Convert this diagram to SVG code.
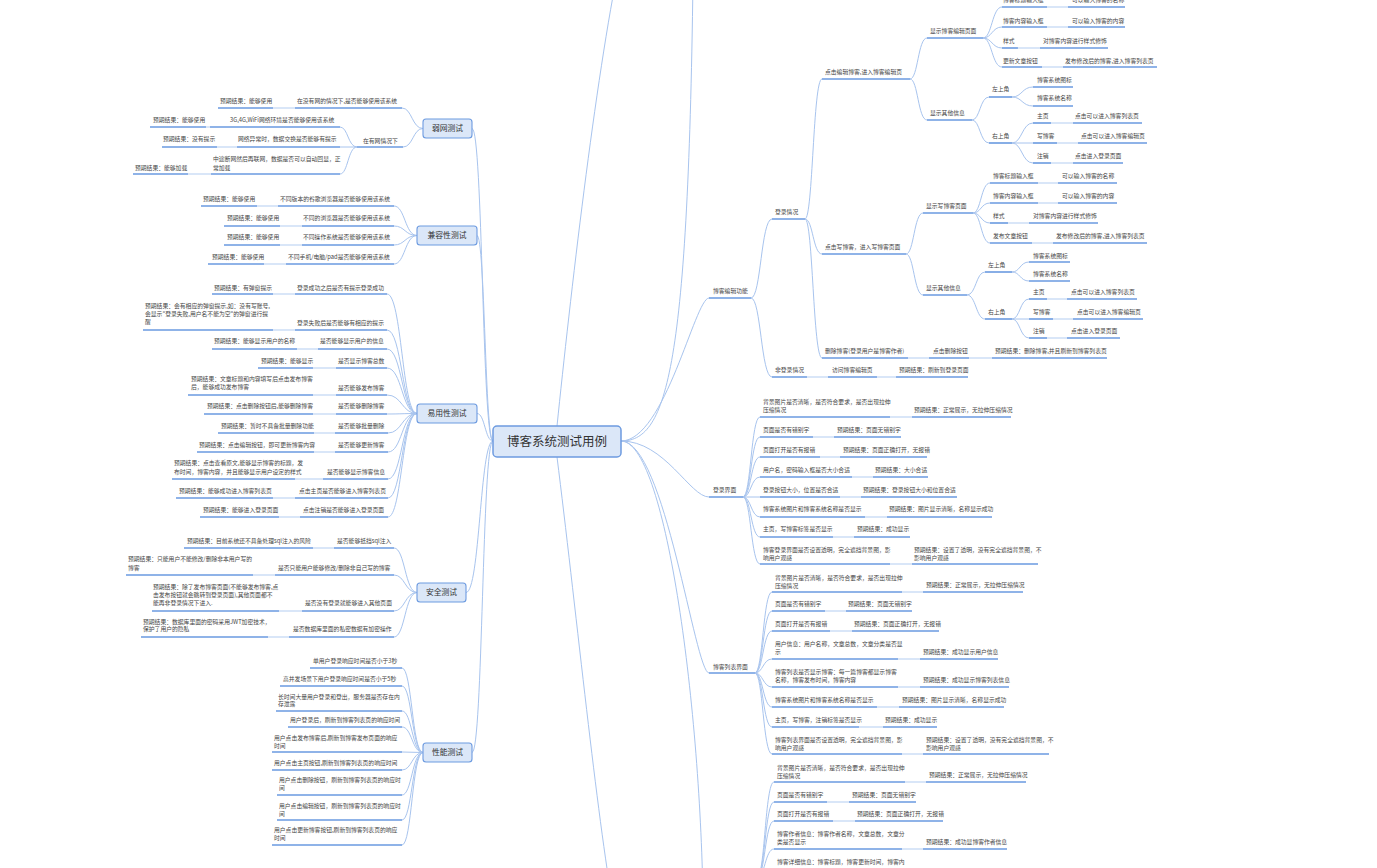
<svg xmlns="http://www.w3.org/2000/svg" width="1377" height="868" viewBox="0 0 1377 868">
<style>
.t{font-family:"Noto Sans CJK SC","Noto Sans",sans-serif;font-size:5.8px;fill:#444}
.u{stroke:#6a9ae0;stroke-width:1.6}
.k{stroke:#c9dbf5;stroke-width:1.4}
.c path{fill:none;stroke:#a8c4ee;stroke-width:1}
.box{fill:#dbe7f8;stroke:#6d9be0;stroke-width:1.1}
.nt{font-family:"Noto Sans CJK SC","Noto Sans",sans-serif;font-size:7.8px;fill:#333;text-anchor:middle}
</style>
<rect width="1377" height="868" fill="#fff"/>
<g id="connectors" class="c">
<path d="M493,441 C482,441 483,128.5 472,128.5"/>
<path d="M493,441 C485,441 485,235.5 477,235.5"/>
<path d="M493,441 C485,441 485,413.5 477,413.5"/>
<path d="M493,441 C480,441 480,592.5 466,592.5"/>
<path d="M493,441 C482,441 483,752.5 472,752.5"/>
<path d="M557,426 C570,300 595,80 620,-40"/>
<path d="M557,457 C575,600 595,800 612,900"/>
<path d="M621,441 C665,441 688,380 693,-20"/>
<path d="M621,441 C665,441 695,298 709,298"/>
<path d="M621,441 C665,441 690,497 709,497"/>
<path d="M621,441 C665,441 695,673 709,673"/>
<path d="M621,441 C665,441 700,700 703,900"/>
<path d="M423,128.5 C412,128.5 412,108 402,108"/>
<path d="M423,128.5 C413,128.5 413,147 403,147"/>
<path d="M357,147 C348,147 348,127 340,127"/>
<path d="M357,147 L340,147"/>
<path d="M357,147 C348,147 348,174 340,174"/>
<path d="M417,235.5 C405,235.5 405,206 394,206"/>
<path d="M417,235.5 C405,235.5 405,226 394,226"/>
<path d="M417,235.5 C405,235.5 405,245 394,245"/>
<path d="M417,235.5 C405,235.5 405,264 394,264"/>
<path d="M417,413.5 C402,413.5 402,294 387,294"/>
<path d="M417,413.5 C402,413.5 402,330 387,330"/>
<path d="M417,413.5 C402,413.5 402,349 387,349"/>
<path d="M417,413.5 C402,413.5 402,368 387,368"/>
<path d="M417,413.5 C402,413.5 402,395 387,395"/>
<path d="M417,413.5 C402,413.5 402,414 387,414"/>
<path d="M417,413.5 C402,413.5 402,433 388,433"/>
<path d="M417,413.5 C402,413.5 402,452 388,452"/>
<path d="M417,413.5 C402,413.5 402,479 388,479"/>
<path d="M417,413.5 C402,413.5 402,498 388,498"/>
<path d="M417,413.5 C402,413.5 402,517 388,517"/>
<path d="M417,592.5 C405,592.5 405,548 394,548"/>
<path d="M417,592.5 C405,592.5 405,575 394,575"/>
<path d="M417,592.5 C405,592.5 405,611 394,611"/>
<path d="M417,592.5 C405,592.5 405,637 394,637"/>
<path d="M423,752.5 C412,752.5 412,668 402,668"/>
<path d="M423,752.5 C412,752.5 412,686 402,686"/>
<path d="M423,752.5 C412,752.5 412,711 402,711"/>
<path d="M423,752.5 C412,752.5 412,727 402,727"/>
<path d="M423,752.5 L402,752"/>
<path d="M423,752.5 C412,752.5 412,770 402,770"/>
<path d="M423,752.5 C412,752.5 412,795 402,795"/>
<path d="M423,752.5 C412,752.5 412,820 402,820"/>
<path d="M423,752.5 C412,752.5 412,845 402,845"/>
<path d="M751,298 C761,298 761,219 772,219"/>
<path d="M751,298 C761,298 761,377 772,377"/>
<path d="M805,219 C813,219 813,79 822,79"/>
<path d="M805,219 C813,219 813,254 822,254"/>
<path d="M805,219 C813,219 813,358 822,358"/>
<path d="M910,79 C918,79 918,38 927,38"/>
<path d="M910,79 C918,79 918,120 927,120"/>
<path d="M983,38 C992,38 992,7 1002,7"/>
<path d="M983,38 C992,38 992,27 1002,27"/>
<path d="M983,38 C992,38 992,48 1002,48"/>
<path d="M983,38 C992,38 992,67 1002,67"/>
<path d="M972,120 C980,120 980,97 989,97"/>
<path d="M972,120 C980,120 980,143 989,143"/>
<path d="M1012,97 C1022,97 1022,87 1033,87"/>
<path d="M1012,97 C1022,97 1022,106 1033,106"/>
<path d="M1012,143 C1022,143 1022,123 1033,123"/>
<path d="M1012,143 L1033,143"/>
<path d="M1012,143 C1022,143 1022,163 1033,163"/>
<path d="M906,254 C914,254 914,213 923,213"/>
<path d="M906,254 C914,254 914,295 923,295"/>
<path d="M973,213 C981,213 981,183 990,183"/>
<path d="M973,213 C981,213 981,203 990,203"/>
<path d="M973,213 C981,213 981,223 990,223"/>
<path d="M973,213 C981,213 981,243 990,243"/>
<path d="M967,295 C976,295 976,272 985,272"/>
<path d="M967,295 C976,295 976,319 985,319"/>
<path d="M1012,272 C1020,272 1020,262 1029,262"/>
<path d="M1012,272 C1020,272 1020,281 1029,281"/>
<path d="M1012,319 C1020,319 1020,299 1029,299"/>
<path d="M1012,319 L1029,319"/>
<path d="M1012,319 C1020,319 1020,338 1029,338"/>
<path d="M743,497 C751,497 751,417 760,417"/>
<path d="M743,497 C751,497 751,437 760,437"/>
<path d="M743,497 C751,497 751,457 760,457"/>
<path d="M743,497 C751,497 751,477 760,477"/>
<path d="M743,497 L760,497"/>
<path d="M743,497 C751,497 751,517 760,517"/>
<path d="M743,497 C751,497 751,537 760,537"/>
<path d="M743,497 C751,497 751,564 760,564"/>
<path d="M755,673 C763,673 763,592 772,592"/>
<path d="M755,673 C763,673 763,611 772,611"/>
<path d="M755,673 C763,673 763,631 772,631"/>
<path d="M755,673 C763,673 763,659 772,659"/>
<path d="M755,673 C763,673 763,687 772,687"/>
<path d="M755,673 C763,673 763,707 772,707"/>
<path d="M755,673 C763,673 763,727 772,727"/>
<path d="M755,673 C763,673 763,754 772,754"/>
<path d="M757,878 C765,878 765,782 774,782"/>
<path d="M757,878 C765,878 765,802 774,802"/>
<path d="M757,878 C765,878 765,821 774,821"/>
<path d="M757,878 C765,878 765,849 774,849"/>
<path d="M757,878 C765,878 765,872 774,872"/>
</g>

<g id="root"><rect class="box" x="493" y="426" width="128" height="31" rx="4" style="stroke-width:1.5"/><text x="557" y="446" style="font-family:'Noto Sans CJK SC',sans-serif;font-size:12.5px;fill:#333;text-anchor:middle">博客系统测试用例</text></g>

<!-- 弱网测试 -->
<g id="weak"><rect class="box" x="423" y="119" width="49" height="19" rx="3"/><text class="nt" x="447.5" y="131.3">弱网测试</text></g>
<g id="weak-1"><text class="t" x="297" y="103">在没有网的情况下,是否能够使用该系统</text><line class="u" x1="295" y1="108" x2="402" y2="108"/><line class="k" x1="273" y1="108" x2="295" y2="108"/><text class="t" x="220" y="103">预期结果：能够使用</text><line class="u" x1="218" y1="108" x2="273" y2="108"/></g>
<g id="weak-2"><text class="t" x="363" y="143">在有网情况下</text><line class="u" x1="357" y1="147" x2="403" y2="147"/></g>
<g id="weak-2a"><text class="t" x="230" y="122">3G,4G,WiFi网络环境是否能够使用该系统</text><line class="u" x1="210" y1="127" x2="340" y2="127"/><line class="k" x1="206" y1="127" x2="210" y2="127"/><text class="t" x="153" y="122">预期结果：能够使用</text><line class="u" x1="150" y1="127" x2="206" y2="127"/></g>
<g id="weak-2b"><text class="t" x="238" y="141">网络异常时，数据交换是否能够有提示</text><line class="u" x1="237" y1="147" x2="340" y2="147"/><line class="k" x1="217" y1="147" x2="237" y2="147"/><text class="t" x="163" y="141">预期结果：没有提示</text><line class="u" x1="162" y1="147" x2="217" y2="147"/></g>
<g id="weak-2c"><text class="t" x="213" y="161">中途断网然后再联网，数据是否可以自动回显，正</text><text class="t" x="213" y="170">常加载</text><line class="u" x1="211" y1="174" x2="340" y2="174"/><line class="k" x1="188" y1="174" x2="211" y2="174"/><text class="t" x="135" y="170">预期结果：能够加载</text><line class="u" x1="133" y1="174" x2="188" y2="174"/></g>

<!-- 兼容性测试 -->
<g id="compat"><rect class="box" x="417" y="226" width="60" height="19" rx="3"/><text class="nt" x="447" y="238.3">兼容性测试</text></g>
<g id="compat-1"><text class="t" x="280" y="201">不同版本的谷歌浏览器是否能够使用该系统</text><line class="u" x1="278" y1="206" x2="394" y2="206"/><line class="k" x1="257" y1="206" x2="278" y2="206"/><text class="t" x="203" y="201">预期结果：能够使用</text><line class="u" x1="201" y1="206" x2="257" y2="206"/></g>
<g id="compat-2"><text class="t" x="303" y="220">不同的浏览器是否能够使用该系统</text><line class="u" x1="302" y1="226" x2="394" y2="226"/><line class="k" x1="280" y1="226" x2="302" y2="226"/><text class="t" x="227" y="220">预期结果：能够使用</text><line class="u" x1="224" y1="226" x2="280" y2="226"/></g>
<g id="compat-3"><text class="t" x="303" y="239">不同操作系统是否能够使用该系统</text><line class="u" x1="302" y1="245" x2="394" y2="245"/><line class="k" x1="280" y1="245" x2="302" y2="245"/><text class="t" x="227" y="239">预期结果：能够使用</text><line class="u" x1="224" y1="245" x2="280" y2="245"/></g>
<g id="compat-4"><text class="t" x="288" y="259">不同手机/电脑/pad是否能够使用该系统</text><line class="u" x1="286" y1="264" x2="394" y2="264"/><line class="k" x1="264" y1="264" x2="286" y2="264"/><text class="t" x="212" y="259">预期结果：能够使用</text><line class="u" x1="208" y1="264" x2="264" y2="264"/></g>

<!-- 易用性测试 -->
<g id="usab"><rect class="box" x="417" y="404" width="60" height="19" rx="3"/><text class="nt" x="447" y="416.3">易用性测试</text></g>
<g id="usab-1"><text class="t" x="297" y="290">登录成功之后是否有提示登录成功</text><line class="u" x1="295" y1="294" x2="387" y2="294"/><line class="k" x1="273" y1="294" x2="295" y2="294"/><text class="t" x="214" y="290">预期结果：有弹窗提示</text><line class="u" x1="212" y1="294" x2="273" y2="294"/></g>
<g id="usab-2"><text class="t" x="297" y="325">登录失败后是否能够有相应的提示</text><line class="u" x1="295" y1="330" x2="387" y2="330"/><line class="k" x1="273" y1="330" x2="295" y2="330"/><text class="t" x="145" y="308">预期结果：会有相应的弹窗提示,如：没有写账号,</text><text class="t" x="145" y="316">会显示"登录失败,用户名不能为空"的弹窗进行提</text><text class="t" x="145" y="324">醒</text><line class="u" x1="143" y1="330" x2="273" y2="330"/></g>
<g id="usab-3"><text class="t" x="320" y="343">是否能够显示用户的信息</text><line class="u" x1="318" y1="349" x2="387" y2="349"/><line class="k" x1="297" y1="349" x2="318" y2="349"/><text class="t" x="214" y="343">预期结果：能够显示用户的名称</text><line class="u" x1="212" y1="349" x2="297" y2="349"/></g>
<g id="usab-4"><text class="t" x="338" y="363">是否显示博客总数</text><line class="u" x1="336" y1="368" x2="387" y2="368"/><line class="k" x1="313" y1="368" x2="336" y2="368"/><text class="t" x="261" y="363">预期结果：能够显示</text><line class="u" x1="258" y1="368" x2="313" y2="368"/></g>
<g id="usab-5"><text class="t" x="338" y="390">是否能够发布博客</text><line class="u" x1="336" y1="395" x2="387" y2="395"/><line class="k" x1="313" y1="395" x2="336" y2="395"/><text class="t" x="191" y="381">预期结果：文章标题和内容填写后点击发布博客</text><text class="t" x="191" y="389">后，能够成功发布博客</text><line class="u" x1="188" y1="395" x2="313" y2="395"/></g>
<g id="usab-6"><text class="t" x="338" y="408">是否能够删除博客</text><line class="u" x1="336" y1="414" x2="387" y2="414"/><line class="k" x1="313" y1="414" x2="336" y2="414"/><text class="t" x="207" y="408">预期结果：点击删除按钮后,能够删除博客</text><line class="u" x1="204" y1="414" x2="313" y2="414"/></g>
<g id="usab-7"><text class="t" x="338" y="428">是否能够批量删除</text><line class="u" x1="335" y1="433" x2="388" y2="433"/><line class="k" x1="314" y1="433" x2="335" y2="433"/><text class="t" x="221" y="428">预期结果：暂时不具备批量删除功能</text><line class="u" x1="218" y1="433" x2="314" y2="433"/></g>
<g id="usab-8"><text class="t" x="338" y="447">是否能够更新博客</text><line class="u" x1="335" y1="452" x2="388" y2="452"/><line class="k" x1="314" y1="452" x2="335" y2="452"/><text class="t" x="199" y="447">预期结果：点击编辑按钮，即可更新博客内容</text><line class="u" x1="197" y1="452" x2="314" y2="452"/></g>
<g id="usab-9"><text class="t" x="327" y="474">是否能够显示博客信息</text><line class="u" x1="323" y1="479" x2="388" y2="479"/><line class="k" x1="295" y1="479" x2="323" y2="479"/><text class="t" x="174" y="465">预期结果：点击查看原文,能够显示博客的标题，发</text><text class="t" x="174" y="474">布时间，博客内容，并且能够显示用户设定的样式</text><line class="u" x1="172" y1="479" x2="295" y2="479"/></g>
<g id="usab-10"><text class="t" x="299" y="493">点击主页是否能够进入博客列表页</text><line class="u" x1="295" y1="498" x2="388" y2="498"/><line class="k" x1="273" y1="498" x2="295" y2="498"/><text class="t" x="179" y="493">预期结果：能够成功进入博客列表页</text><line class="u" x1="176" y1="498" x2="273" y2="498"/></g>
<g id="usab-11"><text class="t" x="303" y="512">点击注销是否能够进入登录页面</text><line class="u" x1="300" y1="517" x2="388" y2="517"/><line class="k" x1="279" y1="517" x2="300" y2="517"/><text class="t" x="203" y="512">预期结果：能够进入登录页面</text><line class="u" x1="200" y1="517" x2="279" y2="517"/></g>

<!-- 安全测试 -->
<g id="sec"><rect class="box" x="417" y="583" width="49" height="19" rx="3"/><text class="nt" x="441.5" y="595.3">安全测试</text></g>
<g id="sec-1"><text class="t" x="337" y="543">是否能够抵挡sql注入</text><line class="u" x1="334" y1="548" x2="394" y2="548"/><line class="k" x1="313" y1="548" x2="334" y2="548"/><text class="t" x="187" y="543">预期结果：目前系统还不具备处理sql注入的风险</text><line class="u" x1="184" y1="548" x2="313" y2="548"/></g>
<g id="sec-2"><text class="t" x="278" y="570">是否只能用户能够修改/删除非自己写的博客</text><line class="u" x1="275" y1="575" x2="394" y2="575"/><line class="k" x1="253" y1="575" x2="275" y2="575"/><text class="t" x="128" y="561">预期结果：只能用户不能修改/删除非本用户写的</text><text class="t" x="128" y="570">博客</text><line class="u" x1="126" y1="575" x2="253" y2="575"/></g>
<g id="sec-3"><text class="t" x="305" y="605">是否没有登录就能够进入其他页面</text><line class="u" x1="302" y1="611" x2="394" y2="611"/><line class="k" x1="279" y1="611" x2="302" y2="611"/><text class="t" x="153" y="589">预期结果：除了发布博客页面(不能够发布博客,点</text><text class="t" x="153" y="597">击发布按钮就会跳转到登录页面),其他页面都不</text><text class="t" x="153" y="605">能再非登录情况下进入.</text><line class="u" x1="152" y1="611" x2="279" y2="611"/></g>
<g id="sec-4"><text class="t" x="293" y="631">是否数据库里面的私密数据有加密操作</text><line class="u" x1="289" y1="637" x2="394" y2="637"/><line class="k" x1="268" y1="637" x2="289" y2="637"/><text class="t" x="143" y="624">预期结果：数据库里面的密码采用JWT加密技术，</text><text class="t" x="143" y="631">保护了用户的隐私</text><line class="u" x1="141" y1="637" x2="268" y2="637"/></g>

<!-- 性能测试 -->
<g id="perf"><rect class="box" x="423" y="743" width="49" height="19" rx="3"/><text class="nt" x="447.5" y="755.3">性能测试</text></g>
<g id="perf-1"><text class="t" x="313" y="663">单用户登录响应时间是否小于3秒</text><line class="u" x1="310" y1="668" x2="402" y2="668"/></g>
<g id="perf-2"><text class="t" x="283" y="681">高并发场景下用户登录响应时间是否小于5秒</text><line class="u" x1="280" y1="686" x2="402" y2="686"/></g>
<g id="perf-3"><text class="t" x="278" y="699">长时间大量用户登录和登出，服务器是否存在内</text><text class="t" x="278" y="706">存泄露</text><line class="u" x1="276" y1="711" x2="402" y2="711"/></g>
<g id="perf-4"><text class="t" x="290" y="722">用户登录后，刷新到博客列表页的响应时间</text><line class="u" x1="288" y1="727" x2="402" y2="727"/></g>
<g id="perf-5"><text class="t" x="274" y="740">用户点击发布博客后,刷新到博客发布页面的响应</text><text class="t" x="274" y="748">时间</text><line class="u" x1="272" y1="752" x2="402" y2="752"/></g>
<g id="perf-6"><text class="t" x="274" y="765">用户点击主页按钮,刷新到博客列表页的响应时间</text><line class="u" x1="272" y1="770" x2="402" y2="770"/></g>
<g id="perf-7"><text class="t" x="279" y="782">用户点击删除按钮，刷新到博客列表页的响应时</text><text class="t" x="279" y="790">间</text><line class="u" x1="277" y1="795" x2="402" y2="795"/></g>
<g id="perf-8"><text class="t" x="279" y="808">用户点击编辑按钮，刷新到博客列表页的响应时</text><text class="t" x="279" y="816">间</text><line class="u" x1="277" y1="820" x2="402" y2="820"/></g>
<g id="perf-9"><text class="t" x="274" y="832">用户点击更新博客按钮,刷新到博客列表页的响应</text><text class="t" x="274" y="840">时间</text><line class="u" x1="272" y1="845" x2="402" y2="845"/></g>

<!-- 博客编辑功能 -->
<g id="edit"><text class="t" x="713" y="293">博客编辑功能</text><line class="u" x1="709" y1="298" x2="751" y2="298"/></g>
<g id="edit-login"><text class="t" x="775" y="214">登录情况</text><line class="u" x1="772" y1="219" x2="805" y2="219"/></g>
<g id="edit-a"><text class="t" x="825" y="74">点击编辑博客,进入博客编辑页</text><line class="u" x1="822" y1="79" x2="910" y2="79"/></g>
<g id="edit-a1"><text class="t" x="930" y="33">显示博客编辑页面</text><line class="u" x1="927" y1="38" x2="983" y2="38"/></g>
<g id="edit-a1-1"><text class="t" x="1003" y="2">博客标题输入框</text><line class="u" x1="1002" y1="7" x2="1047" y2="7"/><line class="k" x1="1047" y1="7" x2="1068" y2="7"/><text class="t" x="1072" y="2">可以输入博客的名称</text><line class="u" x1="1068" y1="7" x2="1125" y2="7"/></g>
<g id="edit-a1-2"><text class="t" x="1003" y="23">博客内容输入框</text><line class="u" x1="1002" y1="27" x2="1047" y2="27"/><line class="k" x1="1047" y1="27" x2="1068" y2="27"/><text class="t" x="1072" y="23">可以输入博客的内容</text><line class="u" x1="1068" y1="27" x2="1125" y2="27"/></g>
<g id="edit-a1-3"><text class="t" x="1003" y="43">样式</text><line class="u" x1="1002" y1="48" x2="1018" y2="48"/><line class="k" x1="1018" y1="48" x2="1040" y2="48"/><text class="t" x="1043" y="43">对博客内容进行样式修饰</text><line class="u" x1="1040" y1="48" x2="1108" y2="48"/></g>
<g id="edit-a1-4"><text class="t" x="1003" y="63">更新文章按钮</text><line class="u" x1="1002" y1="67" x2="1042" y2="67"/><line class="k" x1="1042" y1="67" x2="1063" y2="67"/><text class="t" x="1065" y="63">发布修改后的博客,进入博客列表页</text><line class="u" x1="1063" y1="67" x2="1157" y2="67"/></g>
<g id="edit-a2"><text class="t" x="930" y="115">显示其他信息</text><line class="u" x1="927" y1="120" x2="972" y2="120"/></g>
<g id="edit-a2-l"><text class="t" x="992" y="91">左上角</text><line class="u" x1="989" y1="97" x2="1012" y2="97"/></g>
<g id="edit-a2-l1"><text class="t" x="1037" y="82">博客系统图标</text><line class="u" x1="1033" y1="87" x2="1073" y2="87"/></g>
<g id="edit-a2-l2"><text class="t" x="1037" y="100">博客系统名称</text><line class="u" x1="1033" y1="106" x2="1073" y2="106"/></g>
<g id="edit-a2-r"><text class="t" x="992" y="138">右上角</text><line class="u" x1="989" y1="143" x2="1012" y2="143"/></g>
<g id="edit-a2-r1"><text class="t" x="1037" y="118">主页</text><line class="u" x1="1033" y1="123" x2="1051" y2="123"/><line class="k" x1="1051" y1="123" x2="1073" y2="123"/><text class="t" x="1075" y="118">点击可以进入博客列表页</text><line class="u" x1="1073" y1="123" x2="1142" y2="123"/></g>
<g id="edit-a2-r2"><text class="t" x="1037" y="138">写博客</text><line class="u" x1="1033" y1="143" x2="1057" y2="143"/><line class="k" x1="1057" y1="143" x2="1078" y2="143"/><text class="t" x="1081" y="138">点击可以进入博客编辑页</text><line class="u" x1="1078" y1="143" x2="1147" y2="143"/></g>
<g id="edit-a2-r3"><text class="t" x="1037" y="158">注销</text><line class="u" x1="1033" y1="163" x2="1051" y2="163"/><line class="k" x1="1051" y1="163" x2="1073" y2="163"/><text class="t" x="1075" y="158">点击进入登录页面</text><line class="u" x1="1073" y1="163" x2="1123" y2="163"/></g>
<g id="edit-b"><text class="t" x="825" y="249">点击写博客，进入写博客页面</text><line class="u" x1="822" y1="254" x2="906" y2="254"/></g>
<g id="edit-b1"><text class="t" x="926" y="208">显示写博客页面</text><line class="u" x1="923" y1="213" x2="973" y2="213"/></g>
<g id="edit-b1-1"><text class="t" x="993" y="178">博客标题输入框</text><line class="u" x1="990" y1="183" x2="1038" y2="183"/><line class="k" x1="1038" y1="183" x2="1058" y2="183"/><text class="t" x="1062" y="178">可以输入博客的名称</text><line class="u" x1="1058" y1="183" x2="1117" y2="183"/></g>
<g id="edit-b1-2"><text class="t" x="993" y="198">博客内容输入框</text><line class="u" x1="990" y1="203" x2="1038" y2="203"/><line class="k" x1="1038" y1="203" x2="1058" y2="203"/><text class="t" x="1062" y="198">可以输入博客的内容</text><line class="u" x1="1058" y1="203" x2="1117" y2="203"/></g>
<g id="edit-b1-3"><text class="t" x="993" y="218">样式</text><line class="u" x1="990" y1="223" x2="1008" y2="223"/><line class="k" x1="1008" y1="223" x2="1029" y2="223"/><text class="t" x="1033" y="218">对博客内容进行样式修饰</text><line class="u" x1="1029" y1="223" x2="1098" y2="223"/></g>
<g id="edit-b1-4"><text class="t" x="993" y="238">发布文章按钮</text><line class="u" x1="990" y1="243" x2="1032" y2="243"/><line class="k" x1="1032" y1="243" x2="1053" y2="243"/><text class="t" x="1056" y="238">发布修改后的博客,进入博客列表页</text><line class="u" x1="1053" y1="243" x2="1147" y2="243"/></g>
<g id="edit-b2"><text class="t" x="926" y="290">显示其他信息</text><line class="u" x1="923" y1="295" x2="967" y2="295"/></g>
<g id="edit-b2-l"><text class="t" x="988" y="267">左上角</text><line class="u" x1="985" y1="272" x2="1012" y2="272"/></g>
<g id="edit-b2-l1"><text class="t" x="1033" y="258">博客系统图标</text><line class="u" x1="1029" y1="262" x2="1070" y2="262"/></g>
<g id="edit-b2-l2"><text class="t" x="1033" y="276">博客系统名称</text><line class="u" x1="1029" y1="281" x2="1070" y2="281"/></g>
<g id="edit-b2-r"><text class="t" x="988" y="314">右上角</text><line class="u" x1="985" y1="319" x2="1012" y2="319"/></g>
<g id="edit-b2-r1"><text class="t" x="1033" y="294">主页</text><line class="u" x1="1029" y1="299" x2="1047" y2="299"/><line class="k" x1="1047" y1="299" x2="1067" y2="299"/><text class="t" x="1071" y="294">点击可以进入博客列表页</text><line class="u" x1="1067" y1="299" x2="1137" y2="299"/></g>
<g id="edit-b2-r2"><text class="t" x="1033" y="314">写博客</text><line class="u" x1="1029" y1="319" x2="1053" y2="319"/><line class="k" x1="1053" y1="319" x2="1073" y2="319"/><text class="t" x="1077" y="314">点击可以进入博客编辑页</text><line class="u" x1="1073" y1="319" x2="1143" y2="319"/></g>
<g id="edit-b2-r3"><text class="t" x="1033" y="333">注销</text><line class="u" x1="1029" y1="338" x2="1047" y2="338"/><line class="k" x1="1047" y1="338" x2="1067" y2="338"/><text class="t" x="1071" y="333">点击进入登录页面</text><line class="u" x1="1067" y1="338" x2="1120" y2="338"/></g>
<g id="edit-c"><text class="t" x="825" y="353">删除博客(登录用户是博客作者)</text><line class="u" x1="822" y1="358" x2="908" y2="358"/><line class="k" x1="908" y1="358" x2="929" y2="358"/><text class="t" x="933" y="353">点击删除按钮</text><line class="u" x1="929" y1="358" x2="969" y2="358"/><line class="k" x1="969" y1="358" x2="992" y2="358"/><text class="t" x="995" y="353">预期结果：删除博客,并且刷新到博客列表页</text><line class="u" x1="992" y1="358" x2="1107" y2="358"/></g>
<g id="edit-nologin"><text class="t" x="775" y="372">非登录情况</text><line class="u" x1="772" y1="377" x2="807" y2="377"/><line class="k" x1="807" y1="377" x2="828" y2="377"/><text class="t" x="832" y="372">访问博客编辑页</text><line class="u" x1="828" y1="377" x2="877" y2="377"/><line class="k" x1="877" y1="377" x2="896" y2="377"/><text class="t" x="899" y="372">预期结果：刷新到登录页面</text><line class="u" x1="896" y1="377" x2="968" y2="377"/></g>

<!-- 登录界面 -->
<g id="loginui"><text class="t" x="713" y="492">登录界面</text><line class="u" x1="709" y1="497" x2="743" y2="497"/></g>
<g id="loginui-1"><text class="t" x="763" y="404">背景图片是否清晰，是否符合要求，是否出现拉伸</text><text class="t" x="763" y="412">压缩情况</text><line class="u" x1="760" y1="417" x2="890" y2="417"/><line class="k" x1="890" y1="417" x2="912" y2="417"/><text class="t" x="914" y="412">预期结果：正常展示，无拉伸压缩情况</text><line class="u" x1="912" y1="417" x2="1011" y2="417"/></g>
<g id="loginui-2"><text class="t" x="763" y="432">页面是否有错别字</text><line class="u" x1="760" y1="437" x2="813" y2="437"/><line class="k" x1="813" y1="437" x2="834" y2="437"/><text class="t" x="837" y="432">预期结果：页面无错别字</text><line class="u" x1="834" y1="437" x2="901" y2="437"/></g>
<g id="loginui-3"><text class="t" x="763" y="452">页面打开是否有报错</text><line class="u" x1="760" y1="457" x2="820" y2="457"/><line class="k" x1="820" y1="457" x2="840" y2="457"/><text class="t" x="843" y="452">预期结果：页面正确打开，无报错</text><line class="u" x1="840" y1="457" x2="927" y2="457"/></g>
<g id="loginui-4"><text class="t" x="763" y="472">用户名，密码输入框是否大小合适</text><line class="u" x1="760" y1="477" x2="852" y2="477"/><line class="k" x1="852" y1="477" x2="873" y2="477"/><text class="t" x="875" y="472">预期结果：大小合适</text><line class="u" x1="873" y1="477" x2="928" y2="477"/></g>
<g id="loginui-5"><text class="t" x="763" y="492">登录按钮大小，位置是否合适</text><line class="u" x1="760" y1="497" x2="840" y2="497"/><line class="k" x1="840" y1="497" x2="861" y2="497"/><text class="t" x="863" y="492">预期结果：登录按钮大小和位置合适</text><line class="u" x1="861" y1="497" x2="957" y2="497"/></g>
<g id="loginui-6"><text class="t" x="763" y="511">博客系统图片和博客系统名称是否显示</text><line class="u" x1="760" y1="517" x2="865" y2="517"/><line class="k" x1="865" y1="517" x2="887" y2="517"/><text class="t" x="889" y="511">预期结果：图片显示清晰，名称显示成功</text><line class="u" x1="887" y1="517" x2="992" y2="517"/></g>
<g id="loginui-7"><text class="t" x="763" y="531">主页，写博客标签是否显示</text><line class="u" x1="760" y1="537" x2="833" y2="537"/><line class="k" x1="833" y1="537" x2="854" y2="537"/><text class="t" x="857" y="531">预期结果：成功显示</text><line class="u" x1="854" y1="537" x2="910" y2="537"/></g>
<g id="loginui-8"><text class="t" x="763" y="552">博客登录界面是否设置透明，完全遮挡背景图，影</text><text class="t" x="763" y="560">响用户观感</text><line class="u" x1="760" y1="564" x2="890" y2="564"/><line class="k" x1="890" y1="564" x2="912" y2="564"/><text class="t" x="914" y="552">预期结果：设置了透明，没有完全遮挡背景图，不</text><text class="t" x="914" y="560">影响用户观感</text><line class="u" x1="912" y1="564" x2="1038" y2="564"/></g>

<!-- 博客列表界面 -->
<g id="listui"><text class="t" x="713" y="669">博客列表界面</text><line class="u" x1="709" y1="673" x2="755" y2="673"/></g>
<g id="listui-1"><text class="t" x="775" y="580">背景图片是否清晰，是否符合要求，是否出现拉伸</text><text class="t" x="775" y="588">压缩情况</text><line class="u" x1="772" y1="592" x2="902" y2="592"/><line class="k" x1="902" y1="592" x2="923" y2="592"/><text class="t" x="926" y="587">预期结果：正常展示，无拉伸压缩情况</text><line class="u" x1="923" y1="592" x2="1023" y2="592"/></g>
<g id="listui-2"><text class="t" x="775" y="606">页面是否有错别字</text><line class="u" x1="772" y1="611" x2="825" y2="611"/><line class="k" x1="825" y1="611" x2="846" y2="611"/><text class="t" x="848" y="606">预期结果：页面无错别字</text><line class="u" x1="846" y1="611" x2="912" y2="611"/></g>
<g id="listui-3"><text class="t" x="775" y="626">页面打开是否有报错</text><line class="u" x1="772" y1="631" x2="830" y2="631"/><line class="k" x1="830" y1="631" x2="852" y2="631"/><text class="t" x="854" y="626">预期结果：页面正确打开，无报错</text><line class="u" x1="852" y1="631" x2="939" y2="631"/></g>
<g id="listui-4"><text class="t" x="775" y="646">用户信息：用户名称，文章总数，文章分类是否显</text><text class="t" x="775" y="654">示</text><line class="u" x1="772" y1="659" x2="898" y2="659"/><line class="k" x1="898" y1="659" x2="920" y2="659"/><text class="t" x="923" y="654">预期结果：成功显示用户信息</text><line class="u" x1="920" y1="659" x2="998" y2="659"/></g>
<g id="listui-5"><text class="t" x="775" y="674">博客列表是否显示博客：每一篇博客都显示博客</text><text class="t" x="775" y="682">名称，博客发布时间，博客内容</text><line class="u" x1="772" y1="687" x2="898" y2="687"/><line class="k" x1="898" y1="687" x2="920" y2="687"/><text class="t" x="923" y="682">预期结果：成功显示博客列表信息</text><line class="u" x1="920" y1="687" x2="1009" y2="687"/></g>
<g id="listui-6"><text class="t" x="775" y="702">博客系统图片和博客系统名称是否显示</text><line class="u" x1="772" y1="707" x2="877" y2="707"/><line class="k" x1="877" y1="707" x2="899" y2="707"/><text class="t" x="902" y="702">预期结果：图片显示清晰，名称显示成功</text><line class="u" x1="899" y1="707" x2="1004" y2="707"/></g>
<g id="listui-7"><text class="t" x="775" y="722">主页，写博客，注销标签是否显示</text><line class="u" x1="772" y1="727" x2="859" y2="727"/><line class="k" x1="859" y1="727" x2="883" y2="727"/><text class="t" x="885" y="722">预期结果：成功显示</text><line class="u" x1="883" y1="727" x2="937" y2="727"/></g>
<g id="listui-8"><text class="t" x="775" y="742">博客列表界面是否设置透明，完全遮挡背景图，影</text><text class="t" x="775" y="750">响用户观感</text><line class="u" x1="772" y1="754" x2="902" y2="754"/><line class="k" x1="902" y1="754" x2="923" y2="754"/><text class="t" x="926" y="742">预期结果：设置了透明，没有完全遮挡背景图，不</text><text class="t" x="926" y="750">影响用户观感</text><line class="u" x1="923" y1="754" x2="1049" y2="754"/></g>

<!-- 博客详情页 (cut at bottom) -->
<g id="detail-1"><text class="t" x="777" y="770">背景图片是否清晰，是否符合要求，是否出现拉伸</text><text class="t" x="777" y="778">压缩情况</text><line class="u" x1="774" y1="782" x2="905" y2="782"/><line class="k" x1="905" y1="782" x2="926" y2="782"/><text class="t" x="929" y="777">预期结果：正常展示，无拉伸压缩情况</text><line class="u" x1="926" y1="782" x2="1026" y2="782"/></g>
<g id="detail-2"><text class="t" x="777" y="797">页面是否有错别字</text><line class="u" x1="774" y1="802" x2="827" y2="802"/><line class="k" x1="827" y1="802" x2="849" y2="802"/><text class="t" x="852" y="797">预期结果：页面无错别字</text><line class="u" x1="849" y1="802" x2="916" y2="802"/></g>
<g id="detail-3"><text class="t" x="777" y="816">页面打开是否有报错</text><line class="u" x1="774" y1="821" x2="833" y2="821"/><line class="k" x1="833" y1="821" x2="855" y2="821"/><text class="t" x="857" y="816">预期结果：页面正确打开，无报错</text><line class="u" x1="855" y1="821" x2="943" y2="821"/></g>
<g id="detail-4"><text class="t" x="777" y="836">博客作者信息：博客作者名称，文章总数，文章分</text><text class="t" x="777" y="844">类是否显示</text><line class="u" x1="774" y1="849" x2="902" y2="849"/><line class="k" x1="902" y1="849" x2="923" y2="849"/><text class="t" x="926" y="844">预期结果：成功显博客作者信息</text><line class="u" x1="923" y1="849" x2="1007" y2="849"/></g>
<g id="detail-5"><text class="t" x="777" y="864">博客详细信息：博客标题，博客更新时间，博客内</text></g>
</svg>
